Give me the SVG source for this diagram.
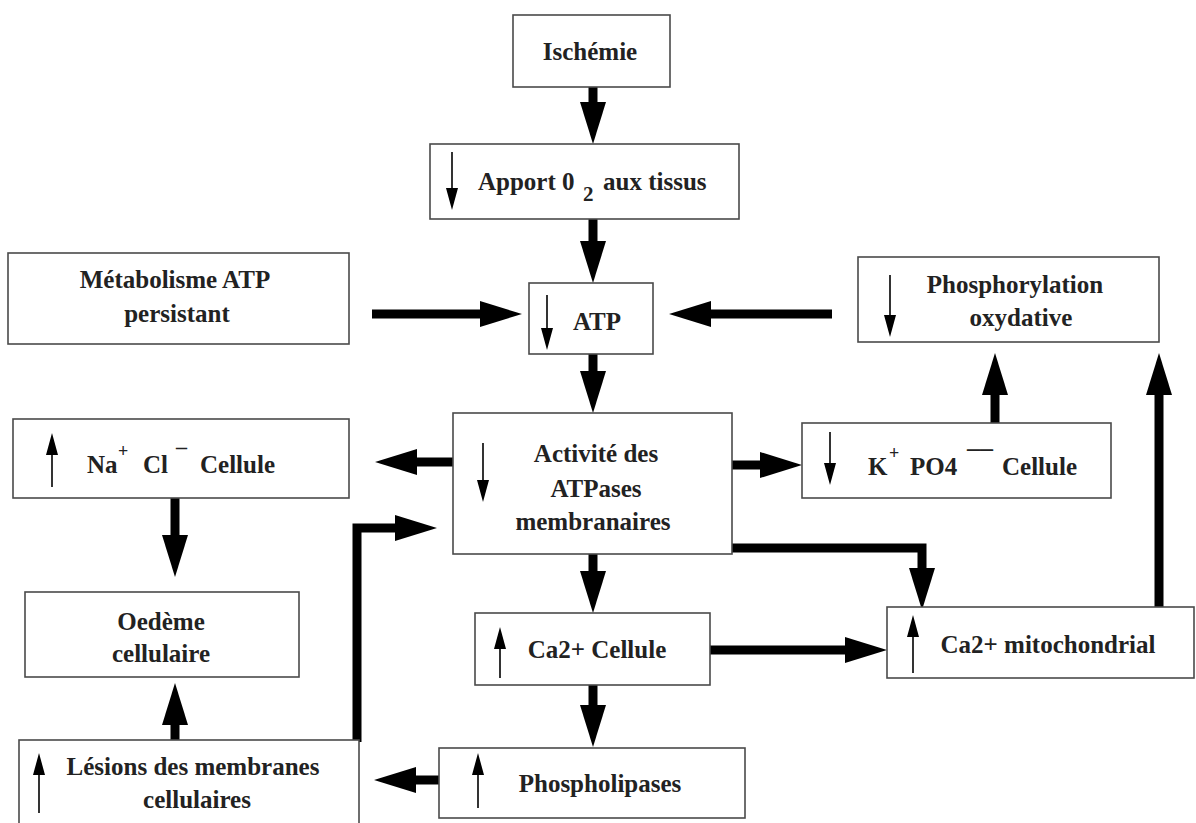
<svg xmlns="http://www.w3.org/2000/svg" width="1196" height="823" viewBox="0 0 1196 823">
<style>
.box{fill:#fff;stroke:#4a4a4a;stroke-width:1.6}
.t{font-family:"Liberation Serif","Times New Roman",serif;font-weight:bold;font-size:25px;fill:#222;text-anchor:middle}
.ts{font-family:"Liberation Serif","Times New Roman",serif;font-weight:bold;font-size:25px;fill:#222}
.big{fill:none;stroke:#000;stroke-width:9;marker-end:url(#bh)}
.sm{fill:none;stroke:#000;stroke-width:1.6;marker-end:url(#sh)}
</style>
<defs>
<marker id="bh" markerUnits="userSpaceOnUse" viewBox="0 -13 42 26" refX="0" refY="0" markerWidth="42" markerHeight="26" orient="auto" overflow="visible"><path d="M0,-13 L42,0 L0,13 z" fill="#000"/></marker>
<marker id="sh" markerUnits="userSpaceOnUse" viewBox="0 -6 22 12" refX="0" refY="0" markerWidth="22" markerHeight="12" orient="auto" overflow="visible"><path d="M0,-6 L22,0 L0,6 z" fill="#000"/></marker>
</defs>
<rect width="1196" height="823" fill="#fff"/>
<g id="connectors">
<path class="big" d="M593,87 V102"/>
<path class="big" d="M593,219 V241"/>
<path class="big" d="M372,314 H480"/>
<path class="big" d="M832,314 H711"/>
<path class="big" d="M593,354 V371"/>
<path class="big" d="M453,462 H417"/>
<path class="big" d="M732,465 H760"/>
<path class="big" d="M995,423 V395"/>
<path class="big" d="M1159,607 V395"/>
<path class="big" d="M593,554 V571"/>
<path class="big" d="M732,548 H922 V568"/>
<path class="big" d="M710,650 H845"/>
<path class="big" d="M593,685 V705"/>
<path class="big" d="M439,780 H416"/>
<path class="big" d="M175,498 V535"/>
<path class="big" d="M175,740 V725"/>
<path class="big" d="M357,742 V528 H395"/>
</g>
<g id="ischemie"><rect class="box" x="513" y="15" width="157" height="72"/><text class="t" x="590" y="60">Ischémie</text></g>
<g id="apport"><rect class="box" x="430" y="144" width="309" height="75"/><path class="sm" d="M452,152 V188"/><text class="ts" x="478" y="190">Apport 0<tspan x="583" y="201" font-size="21">2</tspan><tspan x="603" y="190">aux tissus</tspan></text></g>
<g id="metabolisme"><rect class="box" x="8" y="253" width="341" height="91"/><text class="t" x="175" y="288">Métabolisme ATP</text><text class="t" x="177" y="322">persistant</text></g>
<g id="atp"><rect class="box" x="529" y="283" width="124" height="71"/><path class="sm" d="M547,295 V328"/><text class="t" x="597" y="330">ATP</text></g>
<g id="phosphorylation"><rect class="box" x="858" y="257" width="301" height="85"/><path class="sm" d="M890,275 V315"/><text class="t" x="1015" y="293">Phosphorylation</text><text class="t" x="1021" y="326">oxydative</text></g>
<g id="nacl"><rect class="box" x="13" y="419" width="336" height="79"/><path class="sm" d="M52,487 V455"/><text class="ts" x="87" y="473">Na<tspan x="118" y="457" font-size="18">+</tspan><tspan x="143" y="473">Cl</tspan><tspan x="176" y="454" font-size="22">–</tspan><tspan x="200" y="473">Cellule</tspan></text></g>
<g id="activite"><rect class="box" x="453" y="413" width="279" height="141"/><path class="sm" d="M483,443 V480"/><text class="t" x="596" y="462">Activité des</text><text class="t" x="596" y="497">ATPases</text><text class="t" x="593" y="530">membranaires</text></g>
<g id="kpo4"><rect class="box" x="802" y="423" width="309" height="75"/><path class="sm" d="M830,432 V463"/><text class="ts" x="868" y="475">K<tspan x="889" y="459" font-size="18">+</tspan><tspan x="910" y="475">PO4</tspan><tspan x="967" y="456" font-size="26">––</tspan><tspan x="1002" y="475">Cellule</tspan></text></g>
<g id="oedeme"><rect class="box" x="25" y="592" width="274" height="85"/><text class="t" x="161" y="630">Oedème</text><text class="t" x="161" y="662">cellulaire</text></g>
<g id="ca-cellule"><rect class="box" x="475" y="613" width="235" height="72"/><path class="sm" d="M500,678 V649"/><text class="t" x="597" y="658">Ca2+ Cellule</text></g>
<g id="ca-mito"><rect class="box" x="887" y="607" width="307" height="71"/><path class="sm" d="M913,673 V637"/><text class="t" x="1048" y="653">Ca2+ mitochondrial</text></g>
<g id="lesions"><rect class="box" x="19" y="740" width="340" height="95"/><path class="sm" d="M39,813 V775"/><text class="t" x="193" y="775">Lésions des membranes</text><text class="t" x="197" y="808">cellulaires</text></g>
<g id="phospholipases"><rect class="box" x="439" y="748" width="306" height="70"/><path class="sm" d="M478,808 V775"/><text class="t" x="600" y="792">Phospholipases</text></g>
</svg>
